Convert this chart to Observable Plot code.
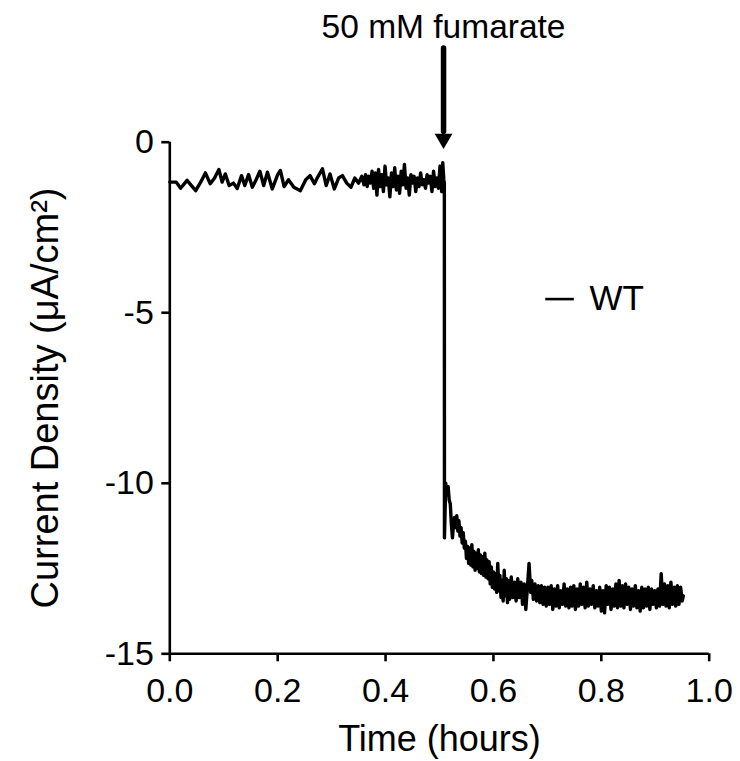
<!DOCTYPE html>
<html>
<head>
<meta charset="utf-8">
<script src="https://cdn.jsdelivr.net/npm/d3@7"></script>
<script src="https://cdn.jsdelivr.net/npm/@observablehq/plot@0.6"></script>
<style>
  html, body { margin: 0; padding: 0; background: #fff; }
  svg { display: block; }
</style>
</head>
<body>
<div id="chart"></div>
<script>
// ---- data ----
// baseline before fumarate addition (hours, µA/cm²)
const baselineTime = [
  0.000, 0.012, 0.020, 0.032, 0.048, 0.058, 0.066, 0.075, 0.083, 0.091,
  0.097, 0.103, 0.110, 0.118, 0.125, 0.133, 0.139, 0.146, 0.153, 0.160,
  0.167, 0.174, 0.181, 0.190, 0.200, 0.205, 0.212, 0.220, 0.230, 0.242,
  0.252, 0.260, 0.268, 0.275, 0.283, 0.290, 0.297, 0.305, 0.313, 0.320,
  0.328, 0.336, 0.343, 0.350, 0.356, 0.360, 0.363, 0.366, 0.369, 0.372,
  0.375, 0.378, 0.381, 0.384, 0.387, 0.390, 0.393, 0.396, 0.399, 0.402,
  0.405, 0.408, 0.411, 0.414, 0.417, 0.420, 0.423, 0.426, 0.429, 0.432,
  0.435, 0.438, 0.441, 0.444, 0.447, 0.450, 0.453, 0.456, 0.459, 0.462,
  0.465, 0.468, 0.471, 0.474, 0.477, 0.480, 0.483, 0.486, 0.489, 0.492,
  0.495, 0.498, 0.501, 0.504, 0.506, 0.508, 0.509
];
const baselineCurrent = [
  -1.17, -1.17, -1.35, -1.12, -1.42, -1.15, -0.90, -1.22, -1.05, -0.80,
  -1.17, -0.93, -1.27, -1.20, -1.36, -0.98, -1.27, -0.95, -1.32, -1.10,
  -0.85, -1.27, -0.88, -1.37, -0.95, -0.83, -1.30, -1.10, -1.32, -1.42,
  -1.10, -0.98, -1.22, -1.00, -0.78, -1.27, -0.93, -1.37, -1.05, -0.98,
  -1.20, -1.32, -1.05, -1.20, -1.00, -1.25, -0.95, -1.30, -1.00, -1.20,
  -0.85, -1.35, -0.90, -1.55, -0.80, -1.30, -0.95, -1.45, -0.70, -1.25,
  -1.05, -1.60, -0.90, -1.30, -0.75, -1.40, -1.00, -1.50, -0.85, -1.25,
  -0.65, -1.35, -1.05, -1.55, -0.95, -1.20, -1.00, -1.45, -1.05, -1.30,
  -0.90, -1.25, -1.10, -1.35, -0.95, -1.20, -1.00, -1.45, -0.85, -1.30,
  -1.05, -1.35, -0.70, -1.45, -0.60, -1.10, -1.20
];
// response after fumarate addition
const responseTime = [
  0.5092, 0.5115, 0.514, 0.516, 0.518, 0.520, 0.522, 0.524, 0.526, 0.528,
  0.530, 0.532, 0.534, 0.536, 0.538, 0.540, 0.542, 0.544, 0.546, 0.548,
  0.550, 0.552, 0.554, 0.556, 0.558, 0.560, 0.562, 0.564, 0.566, 0.568,
  0.570, 0.572, 0.574, 0.576, 0.578, 0.580, 0.582, 0.584, 0.586, 0.588,
  0.590, 0.592, 0.594, 0.596, 0.598, 0.600, 0.602, 0.604, 0.606, 0.608,
  0.610, 0.612, 0.614, 0.616, 0.618, 0.620, 0.622, 0.624, 0.626, 0.628,
  0.630, 0.633, 0.636, 0.639, 0.642, 0.645, 0.648, 0.651, 0.654, 0.657,
  0.660, 0.663, 0.666, 0.669, 0.671, 0.674, 0.677, 0.680, 0.683, 0.686,
  0.689, 0.692, 0.695, 0.698, 0.701, 0.704, 0.707, 0.710, 0.713, 0.716,
  0.719, 0.722, 0.725, 0.728, 0.731, 0.734, 0.737, 0.740, 0.743, 0.746,
  0.749, 0.752, 0.755, 0.758, 0.761, 0.764, 0.767, 0.770, 0.773, 0.776,
  0.779, 0.782, 0.785, 0.788, 0.791, 0.794, 0.797, 0.800, 0.803, 0.806,
  0.809, 0.812, 0.815, 0.818, 0.821, 0.824, 0.827, 0.830, 0.833, 0.836,
  0.839, 0.842, 0.845, 0.848, 0.851, 0.854, 0.857, 0.860, 0.863, 0.866,
  0.869, 0.872, 0.875, 0.878, 0.881, 0.884, 0.887, 0.890, 0.893, 0.896,
  0.899, 0.902, 0.905, 0.908, 0.911, 0.914, 0.917, 0.920, 0.923, 0.926,
  0.929, 0.932, 0.935, 0.938, 0.941, 0.944, 0.947, 0.950, 0.952
];
const responseCurrent = [
  -11.60, -10.00, -10.30, -10.10, -10.50, -10.60, -11.20, -11.60, -11.20, -11.00,
  -11.30, -10.95, -11.40, -11.10, -11.55, -11.30, -11.75, -11.45, -11.90, -11.70,
  -12.20, -11.85, -12.35, -11.90, -12.40, -11.80, -12.45, -12.00, -12.55, -12.05,
  -12.50, -11.95, -12.60, -12.10, -12.65, -12.15, -12.70, -12.05, -12.75, -12.25,
  -12.80, -12.30, -12.95, -12.45, -13.05, -12.60, -13.10, -12.65, -13.20, -12.35,
  -13.15, -12.70, -13.35, -12.85, -13.45, -12.55, -13.30, -12.80, -13.50, -12.85,
  -13.40, -12.75, -13.35, -12.90, -13.45, -12.80, -13.35, -12.90, -13.55, -12.95,
  -13.70, -13.05, -12.35, -13.20, -12.85, -13.40, -12.95, -13.45, -13.00, -13.50,
  -13.00, -13.55, -13.05, -13.60, -13.05, -13.55, -13.00, -13.70, -13.10, -13.60,
  -13.00, -13.65, -13.15, -13.55, -12.95, -13.60, -13.10, -13.65, -13.05, -13.60,
  -13.00, -13.70, -13.10, -13.60, -12.95, -13.55, -13.05, -13.65, -12.90, -13.60,
  -13.10, -13.55, -13.00, -13.65, -13.15, -13.60, -13.05, -13.75, -13.15, -13.80,
  -13.00, -13.55, -13.05, -13.70, -13.10, -13.60, -12.95, -13.65, -12.85, -13.60,
  -13.00, -13.65, -12.95, -13.55, -13.05, -13.70, -13.10, -13.60, -13.00, -13.65,
  -13.15, -13.75, -13.05, -13.65, -13.10, -13.60, -13.05, -13.70, -13.10, -13.55,
  -13.15, -13.65, -13.10, -13.60, -12.65, -13.55, -12.95, -13.60, -13.00, -13.65,
  -12.90, -13.55, -13.05, -13.60, -13.00, -13.55, -13.05, -13.45, -13.30
];

const xTicks = [0.0, 0.2, 0.4, 0.6, 0.8, 1.0];
const yTicks = [0, -5, -10, -15];
const xDomain = [0, 1];
const yDomain = [-15, 0];
const xLabel = "Time (hours)";
const yLabel = "Current Density (μA/cm²)";
const annotationLabel = "50 mM fumarate";
const additionTime = 0.5075;        // when fumarate was added (hours)
const seriesName = "WT";
// legend placement (data units)
const legendX = [0.697, 0.750];
const legendTextX = 0.778;
const legendY = -4.6;
// arrow extents (data units above the axis)
const arrowShaft = [2.75, 0.3];
const arrowHeadY = 0.1;
const annotationY = 3.36;

// ---- build table ----
const series = baselineTime.map((t, i) => ({t, v: baselineCurrent[i]}))
  .concat(responseTime.map((t, i) => ({t, v: responseCurrent[i]})));

const FONT = "'Liberation Sans', Arial, Helvetica, sans-serif";
const FS_TICK = 34;

const chart = Plot.plot({
  width: 740,
  height: 761,
  marginLeft: 169.3,
  marginRight: 31.3,
  marginTop: 141.7,
  marginBottom: 107.7,
  x: {domain: xDomain},
  y: {domain: yDomain},
  style: {fontFamily: FONT, fontSize: FS_TICK + "px", color: "#000", background: "#fff", overflow: "visible"},
  marks: [
    // axis lines
    Plot.ruleX([xDomain[0]], {y1: yDomain[0], y2: yDomain[1], stroke: "#000", strokeWidth: 2.6}),
    Plot.ruleY([yDomain[0]], {x1: xDomain[0], x2: xDomain[1], stroke: "#000", strokeWidth: 2.6}),
    Plot.axisX({
      ticks: xTicks, tickFormat: d3.format(".1f"), tickSize: 8, tickPadding: 16,
      strokeWidth: 2.6, label: null, fontSize: FS_TICK, fill: "#000"
    }),
    Plot.axisY({
      ticks: yTicks, tickFormat: d => String(d), tickSize: 8, tickPadding: 8,
      strokeWidth: 2.6, label: null, fontSize: FS_TICK, fill: "#000"
    }),
    // axis titles
    Plot.text([xLabel], {frameAnchor: "bottom", dy: 86, text: d => d, fontSize: 36, textAnchor: "middle", lineAnchor: "middle", fill: "#000"}),
    Plot.text([yLabel], {frameAnchor: "left", dx: -124, rotate: -90, text: d => d, fontSize: 38, textAnchor: "middle", lineAnchor: "middle", fill: "#000"}),
    // data trace
    Plot.line(series, {x: "t", y: "v", stroke: "#000", strokeWidth: 3.4, strokeLinejoin: "round", clip: false}),
    // annotation arrow
    Plot.ruleX([additionTime], {y1: arrowShaft[0], y2: arrowShaft[1], stroke: "#000", strokeWidth: 5.5, strokeLinecap: "round"}),
    Plot.dot([additionTime], {x: d => d, y: arrowHeadY, symbol: "triangle", rotate: 180, r: 6.6, fill: "#000", stroke: "none"}),
    Plot.text([annotationLabel], {x: additionTime, y: annotationY, text: d => d, fontSize: 33.5, lineAnchor: "middle", fill: "#000"}),
    // legend
    Plot.ruleY([legendY], {x1: legendX[0], x2: legendX[1], stroke: "#000", strokeWidth: 2.6}),
    Plot.text([seriesName], {x: legendTextX, y: legendY, text: d => d, fontSize: 35, textAnchor: "start", lineAnchor: "middle", fill: "#000"})
  ]
});
document.getElementById("chart").appendChild(chart);
</script>
</body>
</html>
